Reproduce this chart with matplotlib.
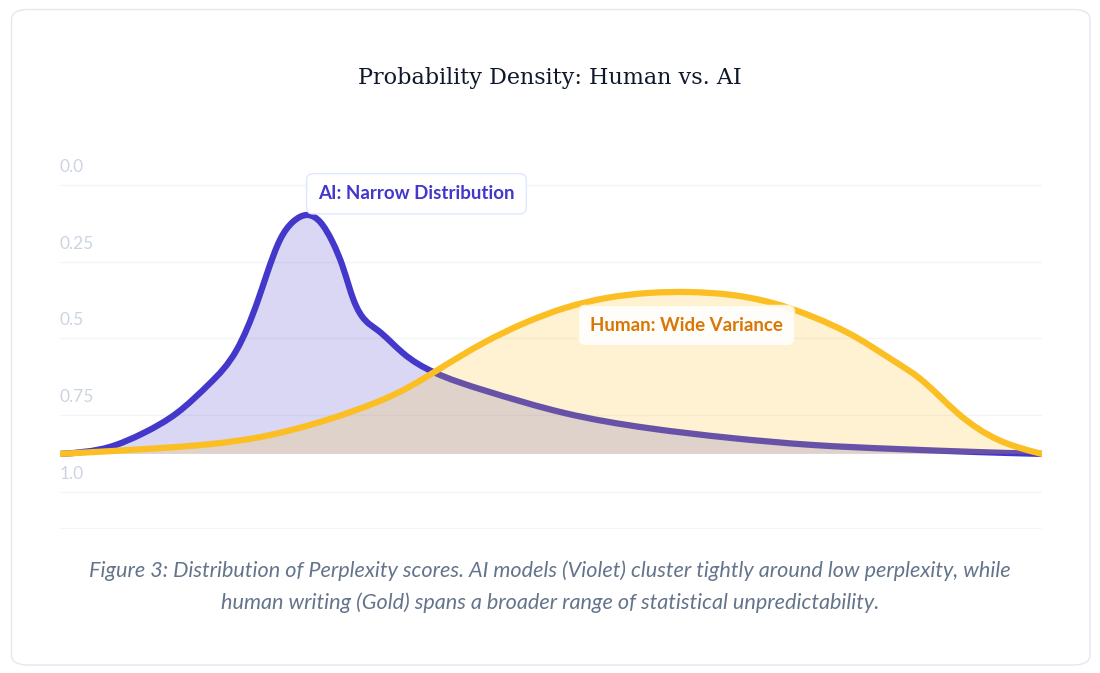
import numpy as np
import matplotlib
matplotlib.use("Agg")
import matplotlib.pyplot as plt
from matplotlib.path import Path
from matplotlib.patches import PathPatch, FancyBboxPatch

# perplexity axis (0-100) and density as read on the (inverted) chart scale
ai_x = [0, 5.1, 8.5, 11.9, 15.3, 18.0, 20.1, 21.1, 22.4, 23.7, 25.2, 26.5, 27.8,
        28.8, 29.9, 32.3, 34.9, 38.0, 43.1, 51.4, 59.9, 68.3, 76.7, 85.1, 93.5, 100]
ai_y = [0.876, 0.853, 0.808, 0.743, 0.645, 0.537, 0.381, 0.287, 0.179, 0.121, 0.098,
        0.121, 0.189, 0.267, 0.375, 0.472, 0.547, 0.609, 0.668, 0.743, 0.792, 0.824,
        0.847, 0.860, 0.870, 0.876]

human_x = [0, 10.2, 20.4, 27.2, 32.3, 34.6, 38.8, 43.1, 47.3, 51.4, 55.7, 59.9, 64.1,
           68.3, 72.5, 76.7, 81.0, 85.1, 87.5, 91.4, 95.6, 100]
human_y = [0.876, 0.857, 0.821, 0.765, 0.707, 0.674, 0.596, 0.515, 0.450, 0.401, 0.368,
           0.352, 0.349, 0.358, 0.384, 0.430, 0.495, 0.577, 0.629, 0.743, 0.831, 0.876]

baseline = 0.876
tick_vals = [0.0, 0.25, 0.5, 0.75, 1.0]
tick_labels = ["0.0", "0.25", "0.5", "0.75", "1.0"]

AI_COL = "#4338ca"
HU_COL = "#fbbf24"
SANS = ["Lato", "DejaVu Sans"]


def smooth_path(xs, ys, close_to=None):
    # natural cubic spline through the points, written as bezier segments
    x = np.asarray(xs, float)
    y = np.asarray(ys, float)
    n = len(x)
    h = np.diff(x)
    d = np.diff(y) / h
    A = np.zeros((n, n))
    r = np.zeros(n)
    A[0, 0] = A[-1, -1] = 1.0
    for i in range(1, n - 1):
        A[i, i - 1] = h[i - 1]
        A[i, i] = 2 * (h[i - 1] + h[i])
        A[i, i + 1] = h[i]
        r[i] = 6 * (d[i] - d[i - 1])
    M = np.linalg.solve(A, r)
    m = np.zeros(n)
    m[:-1] = d - h * (2 * M[:-1] + M[1:]) / 6
    m[-1] = d[-1] + h[-1] * (M[-2] + 2 * M[-1]) / 6
    verts = [(x[0], y[0])]
    codes = [Path.MOVETO]
    for i in range(n - 1):
        verts += [(x[i] + h[i] / 3, y[i] + m[i] * h[i] / 3),
                  (x[i + 1] - h[i] / 3, y[i + 1] - m[i + 1] * h[i] / 3),
                  (x[i + 1], y[i + 1])]
        codes += [Path.CURVE4] * 3
    if close_to is not None:
        verts += [(x[-1], close_to), (x[0], close_to), (x[0], y[0])]
        codes += [Path.LINETO, Path.LINETO, Path.CLOSEPOLY]
    return Path(verts, codes)


fig = plt.figure(figsize=(11, 6.73), dpi=100)
fig.patch.set_facecolor("white")

# card
card = FancyBboxPatch((11.5 / 1100, 1 - 665 / 673), (1090 - 11.5) / 1100, (665 - 9.5) / 673,
                      boxstyle="round,pad=0,rounding_size=0.015",
                      transform=fig.transFigure, facecolor="white",
                      edgecolor="#e2e8f0", linewidth=1.0, zorder=-5)
fig.patches.append(card)

ax = fig.add_axes([60 / 1100, (673 - 529) / 673, (1042 - 60) / 1100, (529 - 160) / 673])
ax.set_xlim(0, 100)
ax.set_ylim(1.1205, -0.081)
ax.axis("off")

for v, lab in zip(tick_vals, tick_labels):
    ax.axhline(v, color="#f1f5f9", lw=1, zorder=1)
    ax.annotate(lab, xy=(0, v), xytext=(0, 13), textcoords="offset points",
                ha="left", va="center", color="#cbd5e1", fontsize=12.5,
                family=SANS)
ax.axhline(1.1205, color="#f1f5f9", lw=1.2, zorder=1)

# AI first, human on top
ax.add_patch(PathPatch(smooth_path(ai_x, ai_y, baseline), facecolor=AI_COL,
                       alpha=0.2, edgecolor="none", zorder=2))
ax.add_patch(PathPatch(smooth_path(ai_x, ai_y), facecolor="none", edgecolor=AI_COL,
                       lw=4.5, capstyle="round", joinstyle="round", zorder=3))
ax.add_patch(PathPatch(smooth_path(human_x, human_y, baseline), facecolor=HU_COL,
                       alpha=0.2, edgecolor="none", zorder=4))
ax.add_patch(PathPatch(smooth_path(human_x, human_y), facecolor="none", edgecolor=HU_COL,
                       lw=4.5, capstyle="round", joinstyle="round", zorder=5))

ax.text(36.3, 0.029, "AI: Narrow Distribution", ha="center", va="center",
        color=AI_COL, fontsize=13.5, fontweight="bold", family=SANS, zorder=6,
        bbox=dict(boxstyle="round,pad=0.62,rounding_size=0.35", facecolor="white",
                  edgecolor="#e0e7ff", lw=1))
ax.text(63.8, 0.458, "Human: Wide Variance", ha="center", va="center",
        color="#d97706", fontsize=13.5, fontweight="bold", family=SANS, zorder=6,
        bbox=dict(boxstyle="round,pad=0.62,rounding_size=0.35", facecolor="white",
                  alpha=0.9, edgecolor="#fef3c7", lw=1))

fig.text(0.5, 1 - 78 / 673, "Probability Density: Human vs. AI", ha="center",
         va="center", fontsize=16, color="#0f172a", family="DejaVu Serif")

cap1 = "Figure 3: Distribution of Perplexity scores. AI models (Violet) cluster tightly around low perplexity, while"
cap2 = "human writing (Gold) spans a broader range of statistical unpredictability."
fig.text(0.5, 1 - 571 / 673, cap1, ha="center", va="center", fontsize=15.6,
         style="italic", color="#64748b", family=SANS)
fig.text(0.5, 1 - 603 / 673, cap2, ha="center", va="center", fontsize=15.6,
         style="italic", color="#64748b", family=SANS)

fig.savefig("out.png", dpi=100, facecolor="white")
